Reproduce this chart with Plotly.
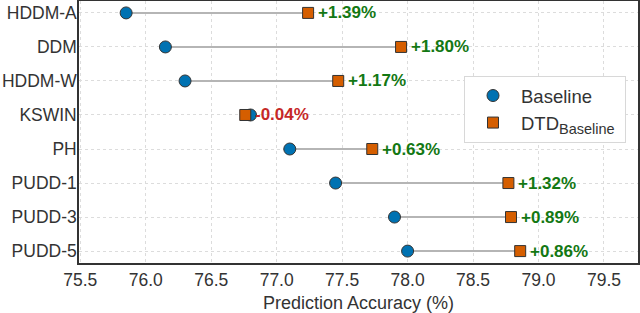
import plotly.graph_objects as go

methods = ["HDDM-A", "DDM", "HDDM-W", "KSWIN", "PH", "PUDD-1", "PUDD-3", "PUDD-5"]
baseline = [75.85, 76.15, 76.30, 76.80, 77.10, 77.45, 77.90, 78.00]
dtd = [77.24, 77.95, 77.47, 76.76, 77.73, 78.77, 78.79, 78.86]
gains = ["+1.39%", "+1.80%", "+1.17%", "-0.04%", "+0.63%", "+1.32%", "+0.89%", "+0.86%"]
x_ticks = [75.5, 76.0, 76.5, 77.0, 77.5, 78.0, 78.5, 79.0, 79.5]

FONT = "Liberation Sans, Arial, sans-serif"
BLUE = "#0072B2"
ORANGE = "#D55E00"
GREEN = "#137813"
RED = "#C62828"

fig = go.Figure()

lx, ly = [], []
for m, b, d in zip(methods, baseline, dtd):
    lx += [b, d, None]
    ly += [m, m, None]
fig.add_trace(go.Scatter(x=lx, y=ly, mode="lines", line=dict(color="#b5b5b5", width=2),
                         showlegend=False, hoverinfo="skip"))

fig.add_trace(go.Scatter(x=baseline, y=methods, mode="markers", name="Baseline",
                         marker=dict(symbol="circle", size=12, color=BLUE,
                                     line=dict(color="#333333", width=1))))
fig.add_trace(go.Scatter(x=dtd, y=methods,
                         mode="markers",
                         name="DTD<sub><span style=\"font-size:14.5px\">Baseline</span></sub>&nbsp;",
                         marker=dict(symbol="square", size=11, color=ORANGE,
                                     line=dict(color="#333333", width=1))))

for m, d, g in zip(methods, dtd, gains):
    fig.add_annotation(x=d, y=m, text="<b>" + g + "</b>", showarrow=False,
                       xanchor="left", yanchor="middle", xshift=8,
                       font=dict(family=FONT, size=17, color=RED if g.startswith("-") else GREEN))

# soft legend shadow
fig.add_shape(type="rect", xref="paper", yref="paper",
              x0=(466 - 79) / 559, x1=(625 - 79) / 559,
              y0=(263 - 135) / 262, y1=(263 - 78) / 262,
              fillcolor="#e4e4e4", line=dict(width=0), layer="above")

fig.update_layout(
    width=640, height=313,
    margin=dict(l=79, r=2, t=1, b=50, autoexpand=False),
    plot_bgcolor="white", paper_bgcolor="white",
    font=dict(family=FONT, size=17.5, color="#333333"),
    legend=dict(x=(464 - 79) / 559, y=(263 - 76) / 262, xanchor="left", yanchor="top",
                bgcolor="white", bordercolor="#d8d8d8", borderwidth=1,
                font=dict(family=FONT, size=18.5, color="#333333"),
                itemwidth=46, tracegroupgap=0),
)
fig.update_xaxes(range=[75.49, 79.76], tickvals=x_ticks,
                 ticktext=[f"{v:.1f}" for v in x_ticks],
                 showgrid=True, gridcolor="#dcdcdc", griddash="dot", gridwidth=1,
                 showline=True, linecolor="#333333", linewidth=1.5, mirror=True,
                 ticks="", zeroline=False, automargin=False,
                 title=dict(text="Prediction Accuracy (%)", standoff=9,
                            font=dict(family=FONT, size=18, color="#333333")))
fig.update_yaxes(type="category", categoryorder="array", categoryarray=methods,
                 range=[7.35, -0.35], automargin=False, ticklabelstandoff=-3,
                 showgrid=True, gridcolor="#dcdcdc", griddash="dot", gridwidth=1,
                 showline=True, linecolor="#333333", linewidth=1.5, mirror=True,
                 ticks="", zeroline=False)

fig.write_html("out.html", config={"displayModeBar": False},
               post_script="document.body.style.margin='0';")
